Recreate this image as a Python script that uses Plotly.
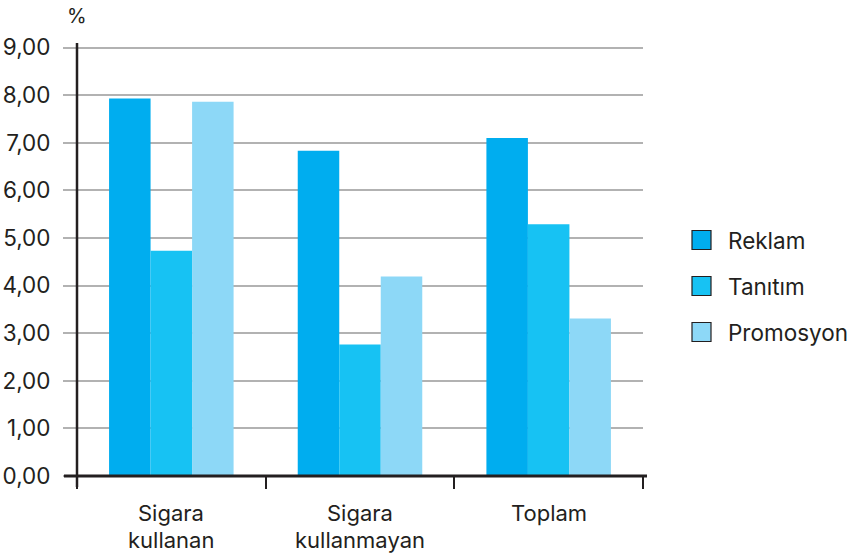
import plotly.graph_objects as go

# Survey shares (%) by group
categories = ["Sigara kullanan", "Sigara kullanmayan", "Toplam"]
category_lines = [["Sigara", "kullanan"], ["Sigara", "kullanmayan"], ["Toplam"]]
series_names = ["Reklam", "Tanıtım", "Promosyon"]
reklam = [7.93, 6.83, 7.10]
tanitim = [4.73, 2.76, 5.29]
promosyon = [7.86, 4.19, 3.31]
y_ticks = [0, 1, 2, 3, 4, 5, 6, 7, 8, 9]

colors = ["#00adef", "#17c2f3", "#8dd8f7"]
ink = "#231f20"
grid = "#b2b2b2"
font_family = "Inter, Liberation Sans, Arial, sans-serif"
fs = 22.5

# Plot area in pixels (848 x 555 canvas)
W, H = 848, 555
L, R, T, B = 77, 643, 43, 476
pw, ph = R - L, B - T


def px(x):
    return (x - L) / pw


def py(y):
    return (B - y) / ph


fig = go.Figure()
for name, vals, c in zip(series_names, [reklam, tanitim, promosyon], colors):
    fig.add_trace(go.Bar(x=categories, y=vals, name=name, marker=dict(color=c, line=dict(width=0)),
                         showlegend=False))

y_top = 9 * ph / (B - 47.5)

fig.update_layout(
    width=W, height=H,
    margin=dict(l=L, r=W - R, t=T, b=H - B, pad=0),
    paper_bgcolor="white", plot_bgcolor="white",
    barmode="group", bargap=0.34, bargroupgap=0,
    separators=",.",
    font=dict(family=font_family, color=ink, size=fs),
    xaxis=dict(
        type="category", range=[-0.5, 2.5], tickson="boundaries",
        ticks="outside", ticklen=12, tickwidth=1.5, tickcolor=ink,
        showticklabels=False, showgrid=False, showline=False, zeroline=False,
        automargin=False,
    ),
    yaxis=dict(
        range=[0, y_top], tickvals=y_ticks, tickformat=".2f",
        ticks="outside", ticklen=13, tickwidth=1.5, tickcolor=grid,
        showgrid=True, gridcolor=grid, gridwidth=1.5,
        showline=False, zeroline=False, automargin=False,
        tickfont=dict(size=fs, color=ink), ticklabelstandoff=8,
    ),
)

shapes = [
    # vertical axis, running slightly below the baseline
    dict(type="line", xref="paper", yref="paper", x0=0, x1=0, y0=py(487), y1=1,
         line=dict(color=ink, width=2.5)),
    # horizontal baseline, starting left of the vertical axis
    dict(type="line", xref="paper", yref="paper", x0=px(64), x1=px(647), y0=0, y1=0,
         line=dict(color=ink, width=3)),
]

annotations = [
    dict(text="%", xref="paper", yref="paper", x=px(77), y=py(16), showarrow=False,
         xanchor="center", yanchor="middle", font=dict(size=20, color=ink)),
]

# Category labels under the axis, one annotation per line
for cat, lines in zip(categories, category_lines):
    for i, line in enumerate(lines):
        annotations.append(dict(text=line, xref="x", yref="paper", x=cat, y=py(513 + 27 * i),
                                showarrow=False, xanchor="center", yanchor="middle",
                                borderpad=0, font=dict(size=22, color=ink)))

# Legend: swatches with labels
for i, (name, c) in enumerate(zip(series_names, colors)):
    cy = 240 + 46 * i
    shapes.append(dict(type="rect", xref="paper", yref="paper",
                       x0=px(692), x1=px(711), y0=py(cy + 9.5), y1=py(cy - 9.5),
                       fillcolor=c, line=dict(color=ink, width=1.2)))
    annotations.append(dict(text=name, xref="paper", yref="paper", x=px(726), y=py(cy),
                            showarrow=False, xanchor="left", yanchor="middle",
                            font=dict(size=fs, color=ink)))

fig.update_layout(shapes=shapes, annotations=annotations)
fig.write_html("out.html")
